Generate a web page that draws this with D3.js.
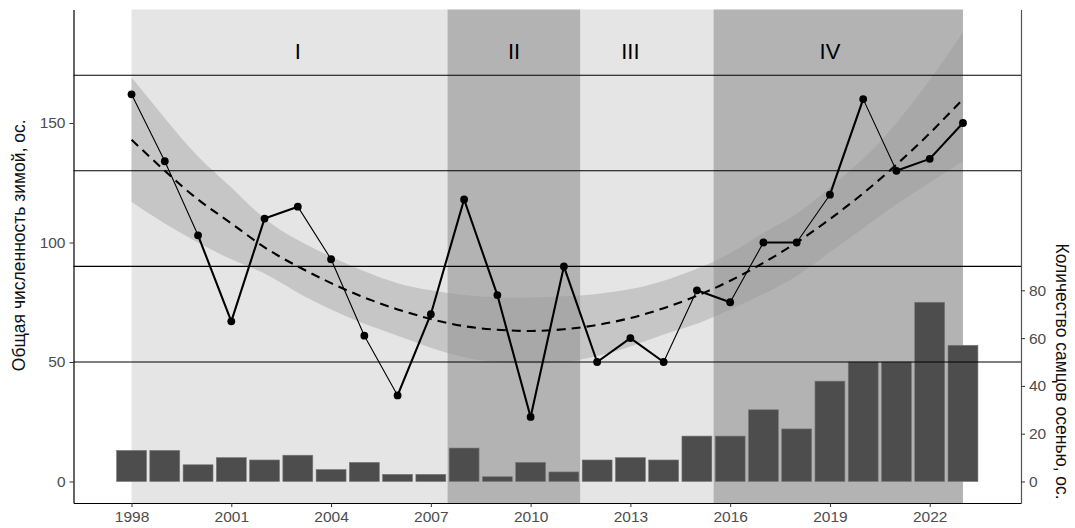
<!DOCTYPE html>
<html>
<head>
<meta charset="utf-8">
<script src="https://cdn.jsdelivr.net/npm/d3@7"></script>
<style>
  html, body { margin: 0; padding: 0; background: #ffffff; }
  svg { display: block; font-family: "Liberation Sans", Arial, sans-serif; }
</style>
</head>
<body>
<svg id="chart" width="1075" height="528"></svg>
<script>
// ---- data ----
const years = [1998, 1999, 2000, 2001, 2002, 2003, 2004, 2005, 2006, 2007, 2008, 2009, 2010,
               2011, 2012, 2013, 2014, 2015, 2016, 2017, 2018, 2019, 2020, 2021, 2022, 2023];

// total winter count (left axis)
const winterTotal = [162, 134, 103, 67, 110, 115, 93, 61, 36, 70, 118, 78, 27,
                     90, 50, 60, 50, 80, 75, 100, 100, 120, 160, 130, 135, 150];

// males counted in autumn (right axis, bars)
const autumnMales = [13, 13, 7, 10, 9, 11, 5, 8, 3, 3, 14, 2, 8,
                     4, 9, 10, 9, 19, 19, 30, 22, 42, 50, 50, 75, 57];

// quadratic trend with its confidence band
const trendFit  = [143, 130, 118, 108, 98, 90, 83, 77, 72, 68, 65, 63.5, 63,
                   63.7, 65.5, 68.4, 72.5, 77.7, 84, 91.5, 100, 109.8, 120.6, 132.6, 145.7, 160];
const trendLow  = [117, 108, 100, 93, 87, 79, 72, 66, 61, 56, 52, 50, 49.5,
                   50, 52.5, 56.5, 61.5, 66, 72, 78.5, 86, 96, 106, 116, 125, 134];
const trendHigh = [169, 152, 136, 123, 110, 101, 94, 88, 83, 80, 78, 77, 77,
                   77.5, 78.5, 80.5, 84, 89, 95.5, 104, 112, 123, 135, 150, 168, 188];

// line segment class between consecutive years (1 = light, 2 = heavy)
const segmentClass = [1, 1, 2, 2, 2, 1, 1, 1, 2, 2, 2, 2, 2, 2, 2, 2, 1, 2, 1, 2, 1, 2, 1, 2, 2];

// periods
const periodLabels  = ["I", "II", "III", "IV"];
const periodStart   = [1998, 2007.5, 2011.5, 2015.5];
const periodEnd     = [2007.5, 2011.5, 2015.5, 2023];
const periodLabelAt = [2003, 2009.5, 2013, 2019];
const periodLabelLevel = 180;

// reference levels
const referenceLevels = [50, 90, 130, 170];

// tick values
const xTicks = [1998, 2001, 2004, 2007, 2010, 2013, 2016, 2019, 2022];
const yLeftTicks = [0, 50, 100, 150];
const yRightTicks = [0, 20, 40, 60, 80];

const leftTitle = "Общая численность зимой, ос.";
const rightTitle = "Количество самцов осенью, ос.";

// ---- layout ----
const panel = { left: 73.5, right: 1021, top: 9.5, bottom: 503 };
const x = d3.scaleLinear().domain([1996.255, 2024.745]).range([panel.left, panel.right]);
const y = d3.scaleLinear().domain([-9, 197.5]).range([panel.bottom, panel.top]);
const barHalf = 0.45;

const periodFill = d3.scaleOrdinal().domain(periodLabels).range(["#e5e5e5", "#b3b3b3", "#e5e5e5", "#b3b3b3"]);
const segWidth = d3.scaleOrdinal().domain([1, 2]).range([1.1, 2.1]);

const svg = d3.select("#chart");

// period backgrounds
svg.append("g").selectAll("rect").data(periodLabels).join("rect")
  .attr("x", (d, i) => x(periodStart[i]))
  .attr("width", (d, i) => x(periodEnd[i]) - x(periodStart[i]))
  .attr("y", panel.top)
  .attr("height", panel.bottom - panel.top)
  .attr("fill", d => periodFill(d));

// confidence band
const band = d3.area()
  .x((d, i) => x(years[i]))
  .y0((d, i) => y(trendLow[i]))
  .y1((d, i) => y(trendHigh[i]))
  .curve(d3.curveNatural);
svg.append("path").datum(years)
  .attr("d", band)
  .attr("fill", "#999999")
  .attr("fill-opacity", 0.4);

// bars
svg.append("g").selectAll("rect").data(autumnMales).join("rect")
  .attr("x", (d, i) => x(years[i] - barHalf))
  .attr("width", (d, i) => x(years[i] + barHalf) - x(years[i] - barHalf))
  .attr("y", d => y(d))
  .attr("height", d => y(0) - y(d))
  .attr("fill", "#4d4d4d")
  .attr("stroke", "#7a7a7a")
  .attr("stroke-width", 0.6);

// reference lines
svg.append("g").selectAll("line").data(referenceLevels).join("line")
  .attr("x1", panel.left).attr("x2", panel.right)
  .attr("y1", d => y(d)).attr("y2", d => y(d))
  .attr("stroke", "#000").attr("stroke-width", 1.1);

// trend line
const trendLine = d3.line()
  .x((d, i) => x(years[i]))
  .y(d => y(d))
  .curve(d3.curveNatural);
svg.append("path").datum(trendFit)
  .attr("d", trendLine)
  .attr("fill", "none")
  .attr("stroke", "#000")
  .attr("stroke-width", 2.1)
  .attr("stroke-dasharray", "9,6");

// observed counts, segment by segment
svg.append("g").selectAll("line").data(segmentClass).join("line")
  .attr("x1", (d, i) => x(years[i]))
  .attr("y1", (d, i) => y(winterTotal[i]))
  .attr("x2", (d, i) => x(years[i + 1]))
  .attr("y2", (d, i) => y(winterTotal[i + 1]))
  .attr("stroke", "#000")
  .attr("stroke-width", d => segWidth(d))
  .attr("stroke-linecap", "round");

svg.append("g").selectAll("circle").data(winterTotal).join("circle")
  .attr("cx", (d, i) => x(years[i]))
  .attr("cy", d => y(d))
  .attr("r", 3.9)
  .attr("fill", "#000");

// period labels
svg.append("g").selectAll("text").data(periodLabels).join("text")
  .attr("x", (d, i) => x(periodLabelAt[i]))
  .attr("y", y(periodLabelLevel) + 8)
  .attr("text-anchor", "middle")
  .attr("font-size", 22)
  .attr("fill", "#000")
  .text(d => d);

// axes
function styleAxis(g, lineColor) {
  g.select(".domain").attr("stroke", lineColor).attr("stroke-width", 1.2);
  g.selectAll(".tick line").attr("stroke", "#333");
  g.selectAll(".tick text").attr("fill", "#4d4d4d").attr("font-size", 15.5)
    .attr("font-family", "'Liberation Sans', Arial, sans-serif");
}

svg.append("g")
  .attr("transform", `translate(0,${panel.bottom})`)
  .call(d3.axisBottom(x).tickValues(xTicks).tickFormat(d3.format("d")).tickSize(4).tickSizeOuter(0).tickPadding(4))
  .call(g => styleAxis(g, "#000"));

svg.append("g")
  .attr("transform", `translate(${panel.left},0)`)
  .call(d3.axisLeft(y).tickValues(yLeftTicks).tickSize(4).tickSizeOuter(0).tickPadding(4))
  .call(g => styleAxis(g, "#000"));

svg.append("g")
  .attr("transform", `translate(${panel.right},0)`)
  .call(d3.axisRight(y).tickValues(yRightTicks).tickSize(4).tickSizeOuter(0).tickPadding(4))
  .call(g => styleAxis(g, "#555"));

// axis titles
svg.append("text")
  .attr("transform", `translate(25,${(panel.top + panel.bottom) / 2 - 11}) rotate(-90)`)
  .attr("text-anchor", "middle")
  .attr("font-size", 17.5)
  .attr("fill", "#111")
  .text(leftTitle);

svg.append("text")
  .attr("transform", `translate(1056,${y(46)}) rotate(90)`)
  .attr("text-anchor", "middle")
  .attr("font-size", 17.5)
  .attr("fill", "#111")
  .text(rightTitle);
</script>
</body>
</html>
